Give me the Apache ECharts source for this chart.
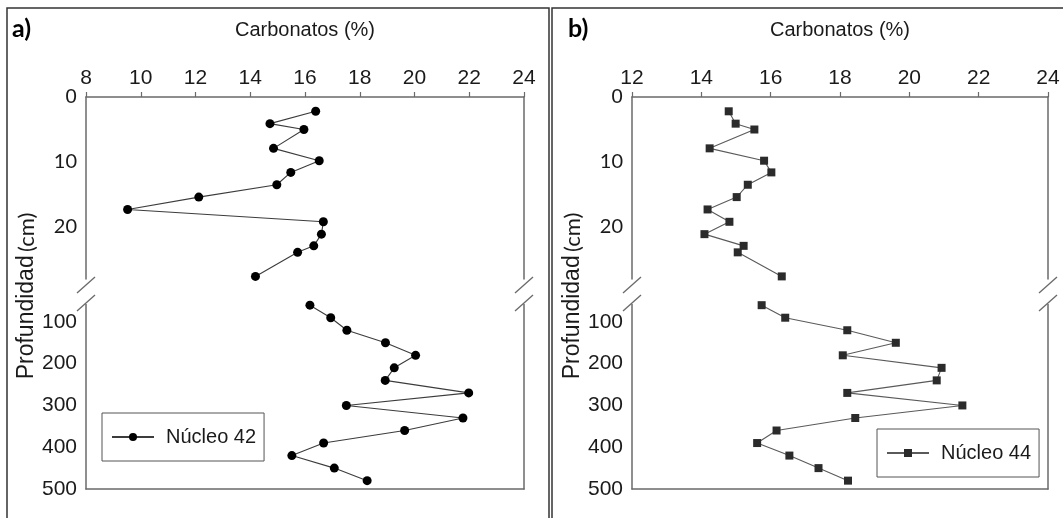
<!DOCTYPE html>
<html>
<head>
<meta charset="utf-8">
<script src="https://cdn.jsdelivr.net/npm/echarts@6/dist/echarts.min.js"></script>
<style>
  html, body { margin: 0; padding: 0; background: #fff; }
  #chart { width: 1063px; height: 518px; }
</style>
</head>
<body>
<div id="chart"></div>
<script>
// Sample depths (cm), shared by both cores
const upperDepths = [2.2, 4.1, 5, 7.9, 9.8, 11.6, 13.5, 15.4, 17.3, 19.2, 21.1, 22.9, 23.9, 27.6];
const lowerDepths = [60, 90, 120, 150, 180, 210, 240, 270, 300, 330, 360, 390, 420, 450, 480];

// Carbonate content (%) – core 42
const core42Upper = [16.39, 14.72, 15.96, 14.85, 16.52, 15.48, 14.97, 12.12, 9.52, 16.67, 16.6, 16.32, 15.73, 14.19];
const core42Lower = [16.18, 16.94, 17.53, 18.94, 20.04, 19.26, 18.93, 21.98, 17.51, 21.77, 19.64, 16.68, 15.52, 17.07, 18.27];

// Carbonate content (%) – core 44
const core44Upper = [14.79, 14.99, 15.53, 14.24, 15.81, 16.02, 15.34, 15.02, 14.18, 14.81, 14.09, 15.22, 15.05, 16.32];
const core44Lower = [15.74, 16.42, 18.21, 19.61, 18.08, 20.93, 20.79, 18.21, 21.53, 18.44, 16.17, 15.61, 16.54, 17.38, 18.23];

// Axis ticks
const core42Range = [8, 24];
const core44Range = [12, 24];
const carbonateStep = 2;
const upperDepthRange = [0, 28];
const lowerDepthRange = [50, 500];
const upperDepthTicks = [0, 10, 20];
const lowerDepthTicks = [100, 200, 300, 400, 500];

// Text
const panelLetters = ['a)', 'b)'];
const seriesNames = ['Núcleo 42', 'Núcleo 44'];
const xTitle = 'Carbonatos (%)';
const yTitleWord = 'Profundidad';
const yTitleUnit = '(cm)';

const NARROW = "'Liberation Sans Narrow','Arial Narrow','Liberation Sans',Arial,sans-serif";
const ROUND = "Lato,'Open Sans','Noto Sans',sans-serif";
const AXIS_COLOR = '#6a6a6a';
const TEXT_COLOR = '#1a1a1a';

// Layout of the two panels (each one has an upper and lower plot joined by an axis break)
const UPPER_TOP = 97, UPPER_H = 182;
const LOWER_TOP = 301, LOWER_H = 188;
const panels = [
  { left: 86, width: 438, range: core42Range, upper: core42Upper, lower: core42Lower,
    name: seriesNames[0], symbol: 'circle', symbolSize: 9, markColor: '#000', lineColor: '#3c3c3c',
    legend: { left: 102, top: 413 }, frameX: 7, frameW: 542, letterX: 12, titleX: 27 },
  { left: 632, width: 416, range: core44Range, upper: core44Upper, lower: core44Lower,
    name: seriesNames[1], symbol: 'rect', symbolSize: 8, markColor: '#2b2b2b', lineColor: '#5a5a5a',
    legend: { left: 877, top: 429 }, frameX: 552, frameW: 540, letterX: 568, titleX: 573 }
];

const grids = [], xAxes = [], yAxes = [], series = [], legends = [], graphics = [];

panels.forEach((p, i) => {
  const gU = grids.length;
  grids.push({ left: p.left, top: UPPER_TOP, width: p.width, height: UPPER_H });
  const gL = grids.length;
  grids.push({ left: p.left, top: LOWER_TOP, width: p.width, height: LOWER_H });

  // top carbonate axis with labels
  xAxes.push({
    type: 'value', gridIndex: gU, position: 'top',
    min: p.range[0], max: p.range[1], interval: carbonateStep,
    axisLine: { show: true, lineStyle: { color: AXIS_COLOR, width: 1.5 } },
    axisTick: { show: true, length: 5, lineStyle: { color: AXIS_COLOR, width: 1.2 } },
    axisLabel: { margin: 8, fontFamily: NARROW, fontSize: 21, color: TEXT_COLOR },
    splitLine: { show: false },
    name: xTitle, nameLocation: 'middle', nameGap: 57,
    nameTextStyle: { fontFamily: NARROW, fontSize: 20, color: TEXT_COLOR }
  });
  // bottom line of the lower plot
  xAxes.push({
    type: 'value', gridIndex: gL, position: 'bottom',
    min: p.range[0], max: p.range[1], interval: carbonateStep,
    axisLine: { show: true, lineStyle: { color: AXIS_COLOR, width: 1.5 } },
    axisTick: { show: false }, axisLabel: { show: false }, splitLine: { show: false }
  });

  const sideAxis = (g) => ({
    type: 'value', gridIndex: g, position: 'right', min: 0, max: 1,
    axisLine: { show: true, onZero: false, lineStyle: { color: AXIS_COLOR, width: 1.5 } },
    axisTick: { show: false }, axisLabel: { show: false }, splitLine: { show: false }
  });

  const yU = yAxes.length;
  yAxes.push({
    type: 'value', gridIndex: gU, position: 'left', inverse: true,
    min: upperDepthRange[0], max: upperDepthRange[1],
    axisLine: { show: true, onZero: false, lineStyle: { color: AXIS_COLOR, width: 1.5 } },
    axisTick: { show: false }, splitLine: { show: false },
    axisLabel: {
      customValues: upperDepthTicks, margin: 9, color: TEXT_COLOR,
      formatter: (v) => v === 0 ? '{n|0}' : '{r|' + v + '}',
      rich: { n: { fontFamily: NARROW, fontSize: 21, color: TEXT_COLOR },
              r: { fontFamily: ROUND, fontSize: 20, color: TEXT_COLOR } }
    }
  });
  yAxes.push(sideAxis(gU));
  const yL = yAxes.length;
  yAxes.push({
    type: 'value', gridIndex: gL, position: 'left', inverse: true,
    min: lowerDepthRange[0], max: lowerDepthRange[1],
    axisLine: { show: true, onZero: false, lineStyle: { color: AXIS_COLOR, width: 1.5 } },
    axisTick: { show: false }, splitLine: { show: false },
    axisLabel: { customValues: lowerDepthTicks, margin: 9, fontFamily: NARROW, fontSize: 21, color: TEXT_COLOR }
  });
  yAxes.push(sideAxis(gL));

  const common = {
    type: 'line', name: p.name, symbol: p.symbol, symbolSize: p.symbolSize,
    itemStyle: { color: p.markColor }, lineStyle: { color: p.lineColor, width: 1.1 },
    showAllSymbol: true, animation: false, z: 3
  };
  series.push(Object.assign({}, common, {
    xAxisIndex: gU, yAxisIndex: yU,
    data: p.upper.map((v, k) => [v, upperDepths[k]])
  }));
  series.push(Object.assign({}, common, {
    xAxisIndex: gL, yAxisIndex: yL,
    data: p.lower.map((v, k) => [v, lowerDepths[k]])
  }));

  legends.push({
    data: [p.name], left: p.legend.left, top: p.legend.top,
    padding: [14, 8, 14, 9], itemWidth: 42, itemHeight: 10,
    borderColor: '#555', borderWidth: 1, backgroundColor: '#fff',
    selectedMode: false,
    textStyle: { fontFamily: NARROW, fontSize: 20, color: TEXT_COLOR, padding: [0, 0, 0, 7] }
  });

  // panel frame
  graphics.push({
    type: 'rect', shape: { x: p.frameX, y: 8, width: p.frameW, height: 530 },
    style: { fill: null, stroke: '#333', lineWidth: 1.5 }, silent: true, z: 0
  });
  // panel letter
  graphics.push({
    type: 'text', x: p.letterX, y: 29,
    style: { text: panelLetters[i], fontFamily: ROUND, fontWeight: 'bold', fontSize: 25,
             fill: '#000', verticalAlign: 'middle', align: 'left' }
  });
  // depth title
  graphics.push({
    type: 'text', x: p.titleX, y: 296, rotation: Math.PI / 2,
    style: {
      text: '{w|' + yTitleWord + '} {u|' + yTitleUnit + '}',
      align: 'center', verticalAlign: 'middle',
      rich: { w: { fontFamily: "'Liberation Sans',Arial,sans-serif", fontSize: 23, fill: TEXT_COLOR },
              u: { fontFamily: ROUND, fontSize: 22, fill: TEXT_COLOR } }
    }
  });
  // axis-break marks on both vertical axes
  const brk = UPPER_TOP + UPPER_H;
  [p.left, p.left + p.width].forEach((ax) => {
    // white gap between the two plots
    graphics.push({
      type: 'rect', shape: { x: ax - 2, y: brk + 1, width: 4, height: LOWER_TOP - brk + 2 },
      style: { fill: '#fff' }, z: 10, silent: true
    });
    [brk + 6, LOWER_TOP + 2].forEach((cy) => {
      graphics.push({
        type: 'line', shape: { x1: ax - 9, y1: cy + 8, x2: ax + 9, y2: cy - 8 },
        style: { stroke: AXIS_COLOR, lineWidth: 1.3 }, z: 11, silent: true
      });
    });
  });
});

const chart = echarts.init(document.getElementById('chart'), null, { renderer: 'canvas' });
chart.setOption({
  animation: false,
  backgroundColor: '#fff',
  grid: grids,
  xAxis: xAxes,
  yAxis: yAxes,
  legend: legends,
  series: series,
  graphic: graphics
});
</script>
</body>
</html>
